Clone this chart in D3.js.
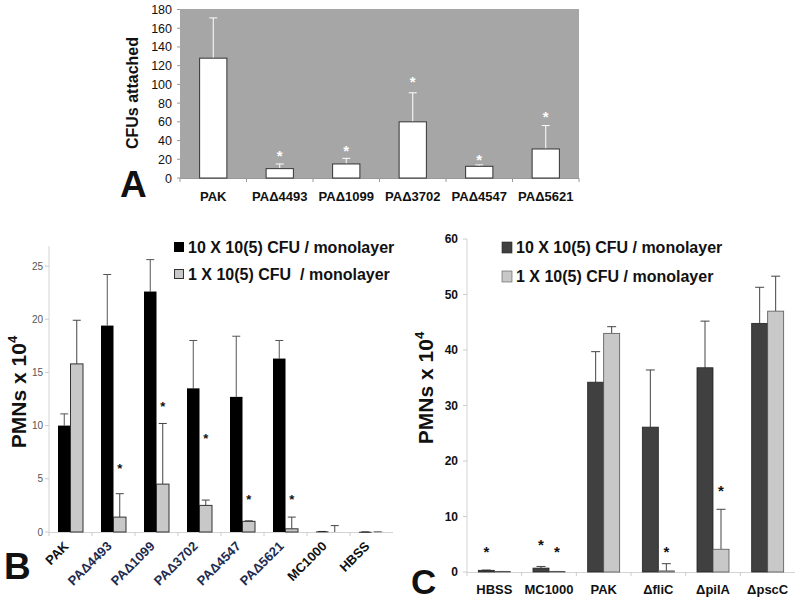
<!DOCTYPE html>
<html><head><meta charset="utf-8">
<script src="https://cdn.jsdelivr.net/npm/d3@7"></script>
<style>body{margin:0;background:#fff}svg{display:block;font-family:"Liberation Sans",Arial,sans-serif}</style>
</head><body>
<svg id="c" width="800" height="601"></svg>
<script>
// ---- Panel A data ----
const catsA = ["PAK","PA\u03944493","PA\u03941099","PA\u03943702","PA\u03944547","PA\u03945621"];
const valsA = [128, 10, 15, 60, 12.5, 31];
const errA  = [171, 15, 21, 91, 14, 56];
const starA = [null, 26, 31, 105, 22, 68];
const ticksA = [0,20,40,60,80,100,120,140,160,180];

// ---- Panel B data ----
const catsB = ["PAK","PA\u03944493","PA\u03941099","PA\u03943702","PA\u03944547","PA\u03945621","MC1000","HBSS"];
const highB = [10.0, 19.4, 22.6, 13.5, 12.7, 16.3, 0.05, 0.02];
const highErrB = [11.1, 24.2, 25.6, 18.0, 18.4, 18.0, 0.05, 0.02];
const lowB  = [15.8, 1.4, 4.5, 2.5, 1.0, 0.3, 0.0, 0.02];
const lowErrB = [19.9, 3.6, 10.2, 3.0, 1.05, 1.4, 0.6, 0.02];
const starB = [null, 6.2, 12.0, 9.0, 3.2, 3.2, null, null];
const ticksB = [0,5,10,15,20,25];
const legendB = ["10 X 10(5) CFU / monolayer","1 X 10(5) CFU\u00a0 / monolayer"];

// ---- Panel C data ----
const catsC = ["HBSS","MC1000","PAK","\u0394fliC","\u0394pilA","\u0394pscC"];
const highC = [0.3, 0.7, 34.2, 26.1, 36.8, 44.8];
const highErrC = [0.35, 1.0, 39.7, 36.4, 45.2, 51.3];
const lowC  = [0.1, 0.1, 43.0, 0.2, 4.1, 47.0];
const lowErrC = [0.1, 0.1, 44.2, 1.5, 11.3, 53.3];
const starHighC = [4.0, 5.4, null, null, null, null];
const starLowC  = [null, 4.0, null, 4.0, 15.1, null];
const ticksC = [0,10,20,30,40,50,60];
const legendC = ["10 X 10(5) CFU / monolayer","1 X 10(5) CFU / monolayer"];

const svg = d3.select("#c");

function errBar(g, x, y0, y1, cap, color){
  g.append("line").attr("x1",x).attr("x2",x).attr("y1",y0).attr("y2",y1).attr("stroke",color).attr("stroke-width",1);
  g.append("line").attr("x1",x-cap).attr("x2",x+cap).attr("y1",y1).attr("y2",y1).attr("stroke",color).attr("stroke-width",1);
}
function star(g, x, y, color, fs){
  g.append("text").attr("x",x).attr("y",y + fs*0.5).attr("text-anchor","middle")
   .attr("font-size",fs).attr("font-weight","bold").attr("fill",color).text("*");
}
function ylabel(g, x, y, fs){
  const t = g.append("text").attr("transform",`translate(${x},${y}) rotate(-90)`)
    .attr("text-anchor","middle").attr("font-size",fs).attr("font-weight","bold").attr("fill","#111");
  t.append("tspan").text("PMNs x 10");
  t.append("tspan").attr("dy",-fs*0.45).attr("font-size",fs*0.62).text("4");
}

// ================= Panel A =================
{
  const g = svg.append("g");
  const x = d3.scaleBand().domain(catsA).range([180,579]);
  const y = d3.scaleLinear().domain([0,180]).range([178,9.5]);
  g.append("rect").attr("x",180).attr("y",9).attr("width",399).attr("height",169).attr("fill","#a6a6a6");
  ticksA.forEach(t=>{
    g.append("text").attr("x",172).attr("y",y(t)+4.5).attr("text-anchor","end").attr("font-size",12.5).attr("fill","#111").text(t);
    g.append("line").attr("x1",177).attr("x2",180).attr("y1",y(t)).attr("y2",y(t)).attr("stroke","#999");
  });
  g.append("line").attr("x1",180).attr("x2",579).attr("y1",178.5).attr("y2",178.5).attr("stroke","#999");
  catsA.forEach((c,i)=>{
    g.append("line").attr("x1",x(c)).attr("x2",x(c)).attr("y1",178).attr("y2",182).attr("stroke","#999");
  });
  g.append("line").attr("x1",579).attr("x2",579).attr("y1",178).attr("y2",182).attr("stroke","#999");
  const bw = x.bandwidth()*0.41;
  catsA.forEach((c,i)=>{
    const cx = x(c)+x.bandwidth()/2;
    errBar(g, cx, y(valsA[i]), y(errA[i]), 4, "#fff");
    g.append("rect").attr("x",cx-bw/2).attr("y",y(valsA[i])).attr("width",bw).attr("height",y(0)-y(valsA[i]))
     .attr("fill","#fff").attr("stroke","#333").attr("stroke-width",1);
    if(starA[i]!=null) star(g, cx, y(starA[i]), "#fff", 15);
    g.append("text").attr("x",cx).attr("y",201).attr("text-anchor","middle").attr("font-size",13).attr("font-weight","bold").attr("fill","#111").text(c);
  });
  g.append("text").attr("transform","translate(138,93) rotate(-90)").attr("text-anchor","middle")
   .attr("font-size",16).attr("font-weight","bold").attr("fill","#111").text("CFUs attached");
  g.append("text").attr("x",120).attr("y",197).attr("font-size",37).attr("font-weight","bold").attr("fill","#111").text("A");
}

// ================= Panel B =================
{
  const g = svg.append("g");
  const x = d3.scaleBand().domain(catsB).range([49,393]);
  const y = d3.scaleLinear().domain([0,25]).range([532,266]);
  g.append("line").attr("x1",49).attr("x2",49).attr("y1",532).attr("y2",246).attr("stroke","#d4d4d4");
  g.append("line").attr("x1",49).attr("x2",393).attr("y1",532.5).attr("y2",532.5).attr("stroke","#d4d4d4");
  ticksB.forEach(t=>{
    g.append("line").attr("x1",45).attr("x2",49).attr("y1",y(t)).attr("y2",y(t)).attr("stroke","#ccc");
    g.append("text").attr("x",43).attr("y",y(t)+3.5).attr("text-anchor","end").attr("font-size",10).attr("fill","#555").text(t);
  });
  catsB.forEach(c=>{
    g.append("line").attr("x1",x(c)).attr("x2",x(c)).attr("y1",532).attr("y2",536).attr("stroke","#ccc");
  });
  const bw = 12.5;
  catsB.forEach((c,i)=>{
    const cx = x(c)+x.bandwidth()/2;
    errBar(g, cx-bw/2, y(highB[i]), y(highErrB[i]), 4, "#555");
    g.append("rect").attr("x",cx-bw).attr("y",y(highB[i])).attr("width",bw).attr("height",Math.max(0.8,y(0)-y(highB[i]))).attr("fill","#000");
    errBar(g, cx+bw/2, y(lowB[i]), y(lowErrB[i]), 4, "#444");
    g.append("rect").attr("x",cx).attr("y",y(lowB[i])).attr("width",bw).attr("height",Math.max(0.5,y(0)-y(lowB[i])))
     .attr("fill","#c8c8c8").attr("stroke","#333").attr("stroke-width",lowB[i]>0.05?1:0);
    if(starB[i]!=null) star(g, cx+bw/2, y(starB[i]), "#111", 13);
    const col = c.startsWith("PA\u0394") ? "#1e2b4f" : "#111";
    g.append("text").attr("transform",`translate(${cx-1},${547}) rotate(-45)`).attr("text-anchor","end")
     .attr("font-size",13).attr("font-weight","bold").attr("fill",col).text(c);
  });
  g.append("rect").attr("x",174).attr("y",242).attr("width",10).attr("height",10).attr("fill","#000");
  g.append("text").attr("x",188).attr("y",252.5).attr("font-size",16).attr("font-weight","bold").attr("fill","#111").text(legendB[0]);
  g.append("rect").attr("x",174.5).attr("y",269.5).attr("width",9).attr("height",9).attr("fill","#c8c8c8").attr("stroke","#333");
  g.append("text").attr("x",188).attr("y",280).attr("font-size",16).attr("font-weight","bold").attr("fill","#111").text(legendB[1]);
  ylabel(g, 26, 392, 21);
  g.append("text").attr("x",4).attr("y",579).attr("font-size",37).attr("font-weight","bold").attr("fill","#111").text("B");
}

// ================= Panel C =================
{
  const g = svg.append("g");
  const x = d3.scaleBand().domain(catsC).range([467,795]);
  const y = d3.scaleLinear().domain([0,60]).range([572,239]);
  g.append("line").attr("x1",467).attr("x2",467).attr("y1",572).attr("y2",239).attr("stroke","#d4d4d4");
  g.append("line").attr("x1",467).attr("x2",795).attr("y1",572.5).attr("y2",572.5).attr("stroke","#d4d4d4");
  ticksC.forEach(t=>{
    g.append("line").attr("x1",463).attr("x2",467).attr("y1",y(t)).attr("y2",y(t)).attr("stroke","#ccc");
    g.append("text").attr("x",458).attr("y",y(t)+4).attr("text-anchor","end").attr("font-size",12).attr("font-weight","bold").attr("fill","#111").text(t);
  });
  catsC.forEach(c=>{
    g.append("line").attr("x1",x(c)).attr("x2",x(c)).attr("y1",572).attr("y2",576).attr("stroke","#ccc");
  });
  const bw = 16;
  catsC.forEach((c,i)=>{
    const cx = x(c)+x.bandwidth()/2;
    errBar(g, cx-bw/2, y(highC[i]), y(highErrC[i]), 4.5, "#444");
    g.append("rect").attr("x",cx-bw).attr("y",y(highC[i])).attr("width",bw).attr("height",y(0)-y(highC[i]))
     .attr("fill","#404040").attr("stroke","#222").attr("stroke-width",0.8);
    errBar(g, cx+bw/2, y(lowC[i]), y(lowErrC[i]), 4.5, "#444");
    g.append("rect").attr("x",cx).attr("y",y(lowC[i])).attr("width",bw).attr("height",y(0)-y(lowC[i]))
     .attr("fill","#c8c8c8").attr("stroke","#555").attr("stroke-width",0.8);
    if(starHighC[i]!=null) star(g, cx-bw/2, y(starHighC[i]), "#111", 15);
    if(starLowC[i]!=null) star(g, cx+bw/2, y(starLowC[i]), "#111", 15);
    g.append("text").attr("x",cx).attr("y",594).attr("text-anchor","middle").attr("font-size",13).attr("font-weight","bold").attr("fill","#111").text(c);
  });
  g.append("rect").attr("x",502).attr("y",242).attr("width",10).attr("height",11).attr("fill","#404040").attr("stroke","#222").attr("stroke-width",0.6);
  g.append("text").attr("x",516).attr("y",253).attr("font-size",16).attr("font-weight","bold").attr("fill","#111").text(legendC[0]);
  g.append("rect").attr("x",502).attr("y",271).attr("width",10).attr("height",11).attr("fill","#c8c8c8").attr("stroke","#555").attr("stroke-width",0.6);
  g.append("text").attr("x",516).attr("y",282).attr("font-size",16).attr("font-weight","bold").attr("fill","#111").text(legendC[1]);
  ylabel(g, 433, 388, 21);
  g.append("text").attr("x",411).attr("y",594).attr("font-size",35).attr("font-weight","bold").attr("fill","#111").text("C");
}
</script>
</body></html>
